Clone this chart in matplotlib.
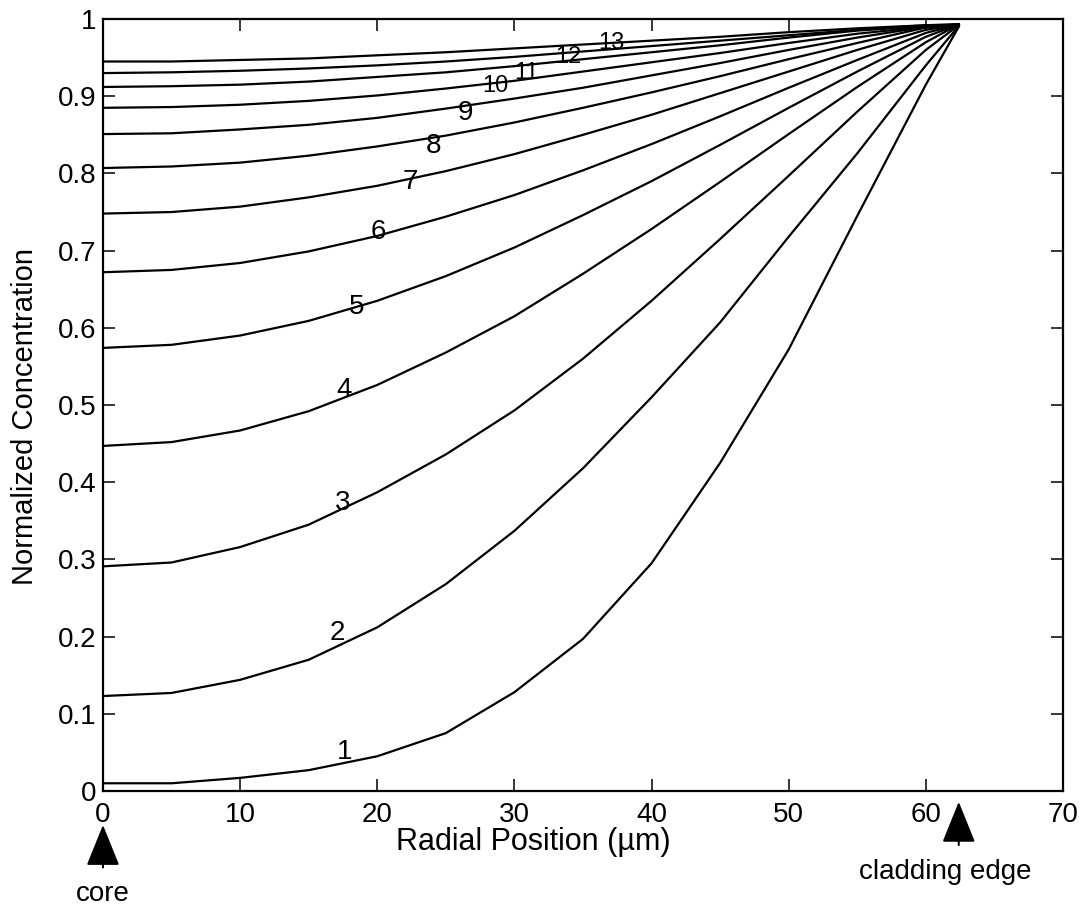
import matplotlib.pyplot as plt

plt.rcParams['font.family'] = ['Liberation Sans', 'DejaVu Sans']

# radial positions (um) where the profiles were read
radius = [0, 5, 10, 15, 20, 25, 30, 35, 40, 45, 50, 55, 60, 62.4]

# normalized concentration profiles, curve 1 (earliest) to 13 (latest)
c1 = [0.010, 0.010, 0.017, 0.027, 0.045, 0.075, 0.128, 0.197, 0.295, 0.425, 0.572, 0.745, 0.915, 0.990]
c2 = [0.123, 0.127, 0.144, 0.170, 0.212, 0.268, 0.337, 0.418, 0.510, 0.607, 0.718, 0.826, 0.940, 0.991]
c3 = [0.291, 0.296, 0.316, 0.345, 0.387, 0.436, 0.493, 0.560, 0.635, 0.715, 0.797, 0.880, 0.960, 0.992]
c4 = [0.447, 0.452, 0.467, 0.492, 0.526, 0.568, 0.615, 0.670, 0.728, 0.789, 0.851, 0.912, 0.970, 0.993]
c5 = [0.574, 0.578, 0.590, 0.609, 0.635, 0.667, 0.704, 0.746, 0.790, 0.837, 0.885, 0.932, 0.977, 0.993]
c6 = [0.672, 0.675, 0.684, 0.699, 0.719, 0.744, 0.772, 0.804, 0.838, 0.874, 0.911, 0.947, 0.982, 0.993]
c7 = [0.748, 0.750, 0.757, 0.769, 0.784, 0.803, 0.825, 0.850, 0.876, 0.904, 0.932, 0.960, 0.986, 0.993]
c8 = [0.807, 0.809, 0.814, 0.823, 0.835, 0.849, 0.866, 0.885, 0.905, 0.926, 0.948, 0.969, 0.989, 0.993]
c9 = [0.851, 0.852, 0.857, 0.863, 0.872, 0.884, 0.897, 0.911, 0.927, 0.943, 0.960, 0.976, 0.990, 0.993]
c10 = [0.885, 0.886, 0.889, 0.894, 0.901, 0.910, 0.920, 0.932, 0.944, 0.956, 0.969, 0.981, 0.990, 0.993]
c11 = [0.912, 0.913, 0.915, 0.919, 0.925, 0.931, 0.939, 0.948, 0.957, 0.966, 0.976, 0.985, 0.991, 0.993]
c12 = [0.930, 0.931, 0.933, 0.936, 0.940, 0.945, 0.951, 0.958, 0.965, 0.972, 0.979, 0.986, 0.992, 0.993]
c13 = [0.945, 0.945, 0.947, 0.949, 0.953, 0.957, 0.962, 0.967, 0.972, 0.977, 0.983, 0.988, 0.992, 0.993]
curves = [c1, c2, c3, c4, c5, c6, c7, c8, c9, c10, c11, c12, c13]

# curve label positions
label_text = ['1', '2', '3', '4', '5', '6', '7', '8', '9', '10', '11', '12', '13']
label_x = [17.6, 17.1, 17.5, 17.6, 18.5, 20.1, 22.4, 24.1, 26.4, 28.6, 30.9, 33.9, 37.1]
label_y = [0.050, 0.205, 0.373, 0.519, 0.627, 0.724, 0.789, 0.835, 0.878, 0.913, 0.930, 0.951, 0.969]

xticks = [0, 10, 20, 30, 40, 50, 60, 70]
yticks = [0, 0.1, 0.2, 0.3, 0.4, 0.5, 0.6, 0.7, 0.8, 0.9, 1]
ytick_labels = ['0', '0.1', '0.2', '0.3', '0.4', '0.5', '0.6', '0.7', '0.8', '0.9', '1']

fig = plt.figure(figsize=(10.85, 9.07), dpi=100)
ax = fig.add_axes([0.0949, 0.1279, 0.8848, 0.8511])

for c in curves:
    ax.plot(radius, c, color='black', lw=1.6)

for t, lx, ly in zip(label_text, label_x, label_y):
    ax.text(lx, ly, t, fontsize=20 if len(t) == 1 else 17, ha='center', va='center')

ax.set_xlim(0, 70)
ax.set_ylim(0, 1)
ax.set_xticks(xticks)
ax.set_yticks(yticks)
ax.set_yticklabels(ytick_labels)
ax.tick_params(direction='in', length=8.5, width=1.1, labelsize=20,
               top=True, right=True)
ax.tick_params(axis='x', pad=8)
ax.tick_params(axis='y', pad=5)
for s in ax.spines.values():
    s.set_linewidth(1.6)

ax.set_xlabel('Radial Position (\u00b5m)', fontsize=22)
ax.xaxis.set_label_coords(0.448, -0.046)
ax.set_ylabel('Normalized Concentration', fontsize=21)
ax.yaxis.set_label_coords(-0.067, 0.485)

# arrows marking the core and cladding edge
trans = ax.get_xaxis_transform()
arrow = dict(arrowstyle='-|>,head_length=26,head_width=10.5', mutation_scale=1,
             color='black', lw=1.5, shrinkA=0, shrinkB=0)
ax.annotate('', xy=(0, -0.044), xytext=(0, -0.099), xycoords=trans, textcoords=trans,
            arrowprops=arrow, annotation_clip=False)
ax.annotate('', xy=(62.4, -0.014), xytext=(62.4, -0.070), xycoords=trans, textcoords=trans,
            arrowprops=arrow, annotation_clip=False)
ax.text(0, -0.134, 'core', transform=trans, fontsize=20, ha='center', va='center')
ax.text(61.4, -0.105, 'cladding edge', transform=trans, fontsize=20, ha='center', va='center')

fig.savefig('out.png', dpi=100)
